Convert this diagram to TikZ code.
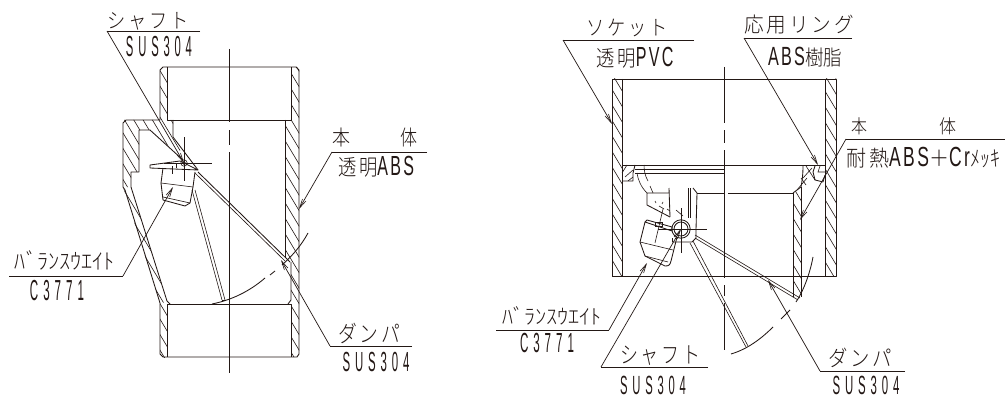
\documentclass[tikz,border=0pt]{standalone}
\usepackage{fontspec}
\usetikzlibrary{arrows.meta}
\newfontfamily\jpf{Noto Sans CJK JP Light}
\newfontfamily\jps[LetterSpace=15]{Noto Sans CJK JP Light}
\newfontfamily\laf[LetterSpace=30,FakeStretch=0.7,Scale=1.25]{Liberation Sans}
\newfontfamily\lam[LetterSpace=10,FakeStretch=0.7,Scale=1.25]{Liberation Sans}
\definecolor{ink}{HTML}{231815}
\newcommand{\lab}[6]{\node[inner sep=0pt,text=ink] (#1) at (#2,#3) {\resizebox{#4pt}{#5pt}{\raisebox{0.04em}[0.95em][0pt]{#6}}};}
\newcommand{\hatchin}[3]{\begin{scope}\clip #1;\foreach \i in {-120,-104.5,...,420}{\draw[hatchln] (#2,\i+#3) -- ++(60,100);}\end{scope}}
\tikzset{
 part/.style={line width=0.85pt,draw=ink,line join=round},
 thin part/.style={line width=0.6pt,draw=ink},
 hatchln/.style={line width=0.6pt,draw=ink},
 axis/.style={line width=0.7pt,draw=ink},
 under/.style={line width=0.8pt,draw=ink},
 lead/.style={line width=0.7pt,draw=ink,-{Straight Barb[length=9pt,width=4pt,line width=0.6pt]}},
}
\begin{document}
\begin{tikzpicture}[x=1pt,y=-1pt]
\useasboundingbox (0,0) rectangle (1005,396);
\fill[white] (0,0) rectangle (1005,396);
% ---------- left valve ----------
\draw[axis] (229,49) -- (229,122) (229,130) -- (229,145) (229,152) -- (229,373);
% hatching
\hatchin{(160,67) -- (167,67) -- (167,120) -- (173,120) -- (173,137) -- (198,170) -- (182,158) -- (150,130) -- (139,130) -- (139,172) -- (131,172) -- (131,187) -- (123,187) -- (123,120) -- (160,120) -- cycle}{120}{0}
\hatchin{(160,303) -- (167,303) -- (167,357) -- (160,357) -- cycle}{150}{4}
\hatchin{(123,187) -- (131,187) -- (167,302) -- (160,303) -- cycle}{110}{8}
\hatchin{(291,67) -- (299,67) -- (299,357) -- (291,357) -- (291,262) -- (285,256) -- (285,120) -- (291,120) -- cycle}{260}{2}
% outline
\draw[part] (163,67) -- (296,67) -- (299,70) -- (299,354) -- (297,357) -- (163,357) -- (160,354) -- (160,303) -- (125,190) -- (123,187) -- (123,123) -- (126,120) -- (160,120) -- (160,70) -- cycle;
\draw[part] (167,67) -- (167,120) -- (291,120) -- (291,67);
\draw[part] (167,357) -- (167,304) -- (291,304) -- (291,357);
\draw[part] (285,120) -- (285,258);
\draw[part] (291,262) -- (291,300) -- (288,304);
\draw[part] (173,120) -- (173,137) -- (198,170);
\draw[part] (150,130) -- (139,130) -- (139,172) -- (131,172) -- (131,187) -- (167,301) -- (170,304);
\draw[part] (150,130) -- (183,160);
% closed damper
\draw[part] (198,172) -- (290,262);
\draw[thin part] (195,173) -- (285,261);
% open damper
\draw[thin part] (192,190) -- (222,300);
\draw[thin part] (195,190) -- (225,300);
\draw[thin part] (222,300) -- (225,300);
% weight
\draw[part] (150,165) -- (180,161) -- (198,170) -- (150,168) -- cycle;
\draw[part] (163,168) -- (161,183) -- (163,200) -- (185,206) -- (190,203) -- (193,187) -- (195,172);
\draw[thin part] (161,183) -- (193,187) (163,197) -- (190,203);
\draw[thin part] (172,166) -- (172,174) (176,163) -- (176,168);
% shaft
\draw[thin part] (184,163) circle (3.2) (184,163) circle (1.5);
\draw[thin part] (184,137) -- (184,181) (164,163) -- (212,163);
% swing arc
\draw[part] (212,304) .. controls (232,300) and (250,291) .. (265,278);
\draw[part] (270,275) -- (275,271);
\draw[part] (282,265) .. controls (292,256) and (301,246) .. (308,233);
% left labels
\coordinate (ls0) at (107,31); \coordinate (ls1) at (200,31); \coordinate (lst) at (184,163);
\draw[under] (ls1) -- (ls0); \draw[lead] (ls0) -- (lst);
\lab{ls}{148}{19}{81}{20}{\jps シャフト}
\lab{lsm}{159}{46}{66}{22}{\laf SUS304}
\coordinate (lb0) at (332,152); \coordinate (lb1) at (427,152); \coordinate (lbt) at (299,209);
\draw[under] (lb1) -- (lb0); \draw[lead] (lb0) -- (lbt);
\lab{lba}{341}{136}{18}{20}{\jpf 本}
\lab{lbb}{409}{136}{17}{20}{\jpf 体}
\lab{lbm}{376}{166}{76}{21}{\jps 透明\lam ABS}
\coordinate (ld0) at (330,346); \coordinate (ld1) at (412,346); \coordinate (ldt) at (281,260);
\draw[under] (ld1) -- (ld0); \draw[lead] (ld0) -- (ldt);
\lab{ld}{369}{332}{62}{22}{\jps ダンパ}
\lab{ldm}{376}{362}{67}{21}{\laf SUS304}
\coordinate (lw0) at (9,276); \coordinate (lw1) at (123,276); \coordinate (lwt) at (173,187);
\draw[under] (lw0) -- (lw1); \draw[lead] (lw1) -- (lwt);
\lab{lw}{65}{260}{100}{21}{\jpf ﾊﾞﾗﾝｽｳｴｲﾄ}
\lab{lwm}{57}{290}{54}{22}{\laf C3771}
% ---------- right valve ----------
\draw[axis] (724,67) -- (724,123) (724,130) -- (724,143) (724,150) -- (724,278) (724,285) -- (724,296) (724,303) -- (724,350);
\hatchin{(612,79) rectangle (622,276)}{570}{0}
\hatchin{(825,79) rectangle (836,276)}{785}{5}
\hatchin{(793,193) -- (801,187) -- (801,297) -- (793,297) -- cycle}{750}{3}
\draw[part] (612,79) -- (836,79) -- (836,276) -- (612,276) -- cycle;
\draw[part] (622,79) -- (622,276) (825,79) -- (825,276);
\draw[part] (622,165) -- (825,165);
\draw[thin part] (635,169) -- (724,169) (635,173) -- (724,173);
% seat ring left
\draw[part] (622,181) -- (633,181) -- (633,173) -- (635,165);
\draw[thin part] (622,173) -- (627,165) (625,177) -- (633,170) (628,181) -- (633,177);
\draw[thin part] (637,173) .. controls (638,180) and (641,187) .. (647,193);
\draw[thin part] (644,165) .. controls (644,170) and (645,176) .. (648,181);
\draw[thin part] (650,186) -- (653,193);
% body interior
\draw[part] (669,193) -- (647,193) -- (647,205) -- (670,217);
\draw[part] (669,188) -- (670,217);
\draw[part] (688,188) -- (688,218) (690,188) -- (690,218);
\draw[part] (693,188) -- (697,193) -- (696,230);
\draw[part] (697,193) -- (724,193) (728,193) -- (793,193);
\draw[thin part] (663,209) -- (655,243);
\draw[thin part] (663,202) -- (662,204) (655,201) -- (656,203) (659,206) -- (664,209) (667,209) -- (670,211) (676,210) -- (683,216);
% seat right
\draw[part] (793,193) -- (801,187) .. controls (802,182) and (803,175) .. (803,166);
\draw[part] (793,193) -- (793,297) (801,187) -- (801,297);
\draw[thin part] (806,166) -- (815,180) (803,178) -- (812,168) (797,190) -- (807,178);
\draw[thin part] (801,178) -- (806,185);
\draw[part] (815,166) -- (813,172) -- (815,180) -- (823,182) -- (825,175);
\draw[thin part] (820,166) -- (818,172) -- (825,172);
% shaft & hub
\draw[part] (672,242) -- (692,242) -- (696,238) -- (696,230);
\draw[part] (672,238) -- (672,242);
\draw[part] (681,229) circle (9.2);
\draw[part] (681,229) circle (7);
\draw[thin part] (681,208) -- (681,253) (658,229) -- (707,229);
% dampers
\draw[thin part] (695,235) -- (800,298);
\draw[thin part] (695,238) -- (798,300);
\draw[thin part] (690,243) -- (746,347);
\draw[thin part] (693,241) -- (748,346);
% weight
\draw[part] (647,220) -- (672,227) -- (672,231) -- (645,222) -- cycle;
\draw[part] (645,222) -- (640,242) -- (645,256) -- (665,266) .. controls (669,266) and (670,265) .. (671,261) -- (677,237);
\draw[thin part] (640,242) -- (673,250) (645,256) -- (668,262);
\draw[thin part] (655,222) rectangle (662,226);
% arc
\draw[part] (731,354) .. controls (748,349) and (762,338) .. (773,327);
\draw[part] (781,319) -- (790,310);
\draw[part] (796,302) .. controls (804,290) and (810,273) .. (813,257);
% right labels
\coordinate (rs0) at (563,40); \coordinate (rs1) at (694,40); \coordinate (rst) at (612,124);
\draw[under] (rs1) -- (rs0); \draw[lead] (rs0) -- (rst);
\lab{rs}{627}{26}{81}{20}{\jps ソケット}
\lab{rsm}{635}{57}{77}{21}{\jps 透明\lam PVC}
\coordinate (rr0) at (744,38); \coordinate (rr1) at (852,38); \coordinate (rrt) at (818,165);
\draw[under] (rr1) -- (rr0); \draw[lead] (rr0) -- (rrt);
\lab{rr}{799}{23}{110}{20}{\jps 応用リング}
\lab{rrm}{805}{56}{74}{20}{\lam ABS\jpf 樹脂}
\coordinate (rb0) at (846,139); \coordinate (rb1) at (1005,139); \coordinate (rbt) at (800,220);
\draw[under] (rb1) -- (rb0); \draw[lead] (rb0) -- (rbt);
\lab{rba}{859}{125}{16}{18}{\jpf 本}
\lab{rbb}{948}{125}{17}{18}{\jpf 体}
\lab{rbm}{923}{157}{154}{21}{\jps 耐熱\lam ABS\jps ＋\lam Cr\jpf ﾒｯｷ}
\coordinate (rw0) at (496,330); \coordinate (rw1) at (609,330); \coordinate (rwt) at (647,263);
\draw[under] (rw0) -- (rw1); \draw[lead] (rw1) -- (rwt);
\lab{rw}{552}{315}{100}{20}{\jpf ﾊﾞﾗﾝｽｳｴｲﾄ}
\lab{rwm}{547}{343}{54}{21}{\laf C3771}
\coordinate (rh0) at (601,367); \coordinate (rh1) at (708,367); \coordinate (rht) at (681,229);
\draw[under] (rh1) -- (rh0); \draw[lead] (rh0) -- (rht);
\lab{rh}{660}{353}{80}{22}{\jps シャフト}
\lab{rhm}{653}{385}{66}{20}{\laf SUS304}
\coordinate (rd0) at (820,371); \coordinate (rd1) at (905,371); \coordinate (rdt) at (768,280);
\draw[under] (rd1) -- (rd0); \draw[lead] (rd0) -- (rdt);
\lab{rd}{860}{357}{64}{21}{\jps ダンパ}
\lab{rdm}{866}{385}{67}{20}{\laf SUS304}
\end{tikzpicture}
\end{document}
